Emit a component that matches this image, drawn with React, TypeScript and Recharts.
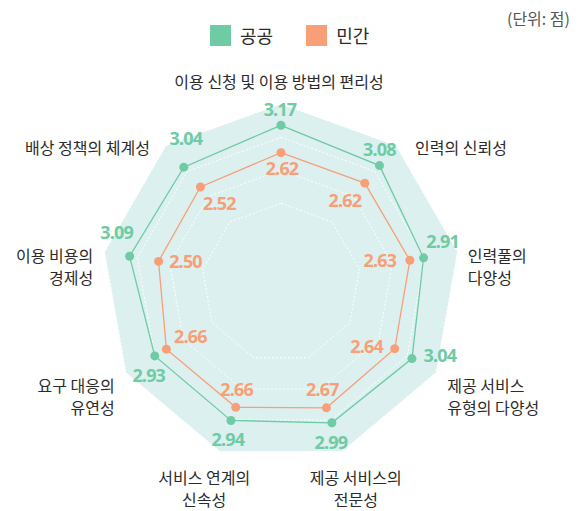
import { PolarAngleAxis, PolarGrid, PolarRadiusAxis, Radar, RadarChart } from 'recharts';

const categories = [
  '이용 신청 및 이용 방법의 편리성',
  '인력의 신뢰성',
  '인력풀의\n다양성',
  '제공 서비스\n유형의 다양성',
  '제공 서비스의\n전문성',
  '서비스 연계의\n신속성',
  '요구 대응의\n유연성',
  '이용 비용의\n경제성',
  '배상 정책의 체계성',
];
const publicScores = [3.17, 3.08, 2.91, 3.04, 2.99, 2.94, 2.93, 3.09, 3.04];
const privateScores = [2.62, 2.62, 2.63, 2.64, 2.67, 2.66, 2.66, 2.5, 2.52];
const radiusDomain = [0, 4];
const backgroundLevel = 3.6;
const gridTicks = [1.6, 2.27, 2.93, 3.6];

const GREEN = '#6ecba4';
const ORANGE = '#f89f78';
const BG = '#dcf0f0';
const FONT = "'Noto Sans CJK KR', 'Noto Sans', sans-serif";

const data = categories.map((name, i) => ({
  name,
  public: publicScores[i],
  private: privateScores[i],
  full: backgroundLevel,
}));

// label placement relative to the default tick point
const tickLayout = [
  { dx: -2, dy: 5, anchor: 'middle' },
  { dx: 1, dy: 23, anchor: 'start' },
  { dx: -17, dy: 8, anchor: 'start' },
  { dx: -13, dy: -2, anchor: 'start' },
  { dx: 4, dy: -1, anchor: 'middle' },
  { dx: -6, dy: -1, anchor: 'middle' },
  { dx: 13, dy: -2, anchor: 'end' },
  { dx: 16, dy: 8, anchor: 'end' },
  { dx: 2, dy: 23, anchor: 'end' },
];

const publicLabelOffsets = [
  [-1, -16], [0, -17], [19, -17], [28, -4], [-1, 19], [-3, 19], [-6, 19], [-13, -24], [2, -29],
];
const privateLabelOffsets = [
  [1, 15], [-20, 17], [-30, 0], [-28, -3], [-4, -19], [1, -18], [24, -13], [27, 0], [19, 16],
];

const AngleTick = ({ x, y, payload, index }: any) => {
  const layout = tickLayout[index] || { dx: 0, dy: 0, anchor: 'middle' };
  const lines = String(payload.value).split('\n');
  return (
    <g>
      {lines.map((line, i) => (
        <text
          key={i}
          x={x + layout.dx}
          y={y + layout.dy + i * 22}
          textAnchor={layout.anchor}
          fill="#2b2b2b"
          fontSize={16}
          fontFamily={FONT}
          dominantBaseline="central"
        >
          {line}
        </text>
      ))}
    </g>
  );
};

const makeDot = (color: string, values: number[], offsets: number[][]) => (props: any) => {
  const { cx, cy, index } = props;
  const [dx, dy] = offsets[index] || [0, 0];
  return (
    <g key={`dot-${index}`}>
      <circle cx={cx} cy={cy} r={4.5} fill={color} stroke="none" />
      <text
        x={cx + dx}
        y={cy + dy}
        textAnchor="middle"
        dominantBaseline="central"
        fill={color}
        fontSize={18}
        fontWeight={700}
        letterSpacing={-0.8}
        fontFamily="'Noto Sans', sans-serif"
      >
        {values[index].toFixed(2)}
      </text>
    </g>
  );
};

const chartProps = {
  width: 580,
  height: 511,
  data,
  cx: 281,
  cy: 283,
  outerRadius: 199,
  margin: { top: 0, right: 0, bottom: 0, left: 0 },
};

const layer = { position: 'absolute' as const, left: 0, top: 0 };

export default function App() {
  return (
    <div
      style={{
        position: 'absolute',
        left: 0,
        top: 0,
        width: 580,
        height: 511,
        background: '#fff',
        fontFamily: FONT,
      }}
    >
      {/* background polygon layer */}
      <div style={layer}>
        <RadarChart {...chartProps}>
          <PolarAngleAxis dataKey="name" tick={false} tickLine={false} axisLine={false} />
          <PolarRadiusAxis domain={radiusDomain} tick={false} axisLine={false} />
          <Radar dataKey="full" stroke="none" fill={BG} fillOpacity={1} dot={false} isAnimationActive={false} />
        </RadarChart>
      </div>
      <div style={layer}>
        <RadarChart {...chartProps}>
          <PolarGrid radialLines={false} stroke="#fff" strokeDasharray="2 2" strokeWidth={1} />
          <PolarAngleAxis dataKey="name" tick={AngleTick} tickLine={false} axisLine={false} />
          <PolarRadiusAxis domain={radiusDomain} ticks={gridTicks} tick={false} axisLine={false} />
          <Radar
            dataKey="public"
            stroke={GREEN}
            strokeWidth={1.3}
            fill="none"
            fillOpacity={0}
            dot={makeDot(GREEN, publicScores, publicLabelOffsets)}
            isAnimationActive={false}
          />
          <Radar
            dataKey="private"
            stroke={ORANGE}
            strokeWidth={1.3}
            fill="none"
            fillOpacity={0}
            dot={makeDot(ORANGE, privateScores, privateLabelOffsets)}
            isAnimationActive={false}
          />
        </RadarChart>
      </div>
      <div style={{ position: 'absolute', right: 10, top: 6, fontSize: 16, color: '#555' }}>(단위: 점)</div>
      <div
        style={{
          position: 'absolute',
          left: 210,
          top: 22,
          display: 'flex',
          alignItems: 'center',
          fontSize: 18,
          color: '#2b2b2b',
        }}
      >
        <span style={{ width: 21, height: 21, background: GREEN, display: 'inline-block', marginRight: 9 }} />
        <span style={{ marginRight: 33 }}>공공</span>
        <span style={{ width: 21, height: 21, background: ORANGE, display: 'inline-block', marginRight: 9 }} />
        <span>민간</span>
      </div>
    </div>
  );
}
